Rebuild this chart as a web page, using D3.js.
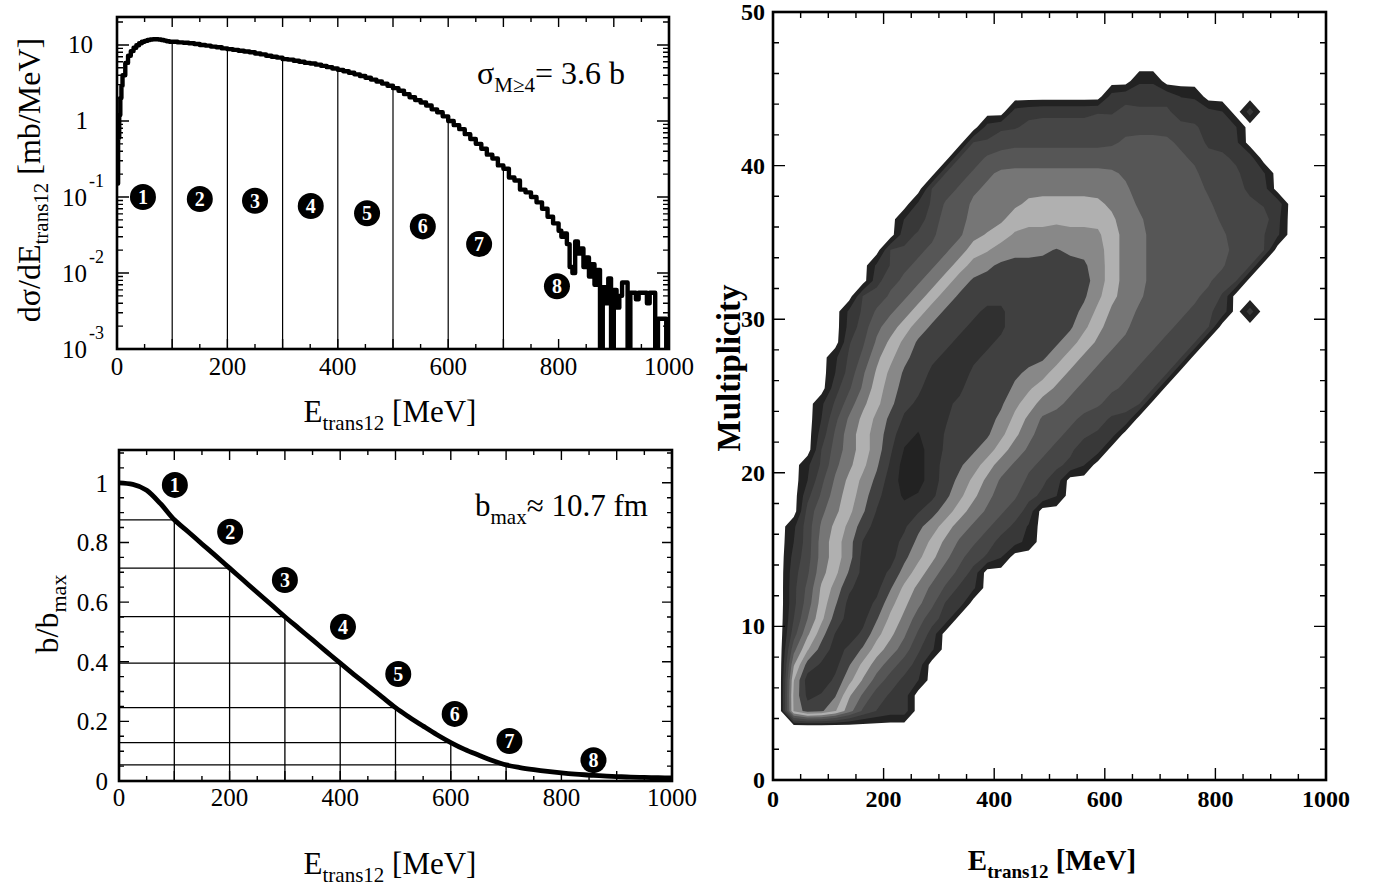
<!DOCTYPE html>
<html>
<head>
<meta charset="utf-8">
<script src="https://cdn.jsdelivr.net/npm/d3@7/dist/d3.min.js"></script>
<style>
  html, body { margin: 0; background: #fff; }
  svg text { font-family: "Liberation Serif", "Times New Roman", serif; }
</style>
</head>
<body>
<svg id="fig" width="1373" height="886"></svg>
<script>
/* ── data ─────────────────────────────────────────────── */

// dσ/dE histogram: fine bins at the rise, 10 MeV in the body, 5 MeV in the tail
const dsigFineE = [0, 2, 4, 6, 8, 10, 15, 20, 25, 30, 35, 40, 45, 50, 55, 60, 65, 70, 75, 80, 85, 90, 95];
const dsigFine = [0.15, 0.6, 1.2, 2.0, 2.9, 4.0, 5.8, 7.2, 8.3, 9.2, 9.9, 10.5, 11.0,
                  11.3, 11.6, 11.8, 11.9, 11.9, 11.8, 11.6, 11.4, 11.2, 11.0];
const dsigMidE = d3.range(100, 800, 10);
const dsigMid = [
  11.0, 10.8, 10.7, 10.5, 10.3, 10.0, 9.8, 9.5, 9.3, 9.0,
  8.8, 8.6, 8.4, 8.2, 8.0, 7.7, 7.5, 7.2, 7.0, 6.8,
  6.5, 6.4, 6.2, 6.0, 5.8, 5.7, 5.5, 5.3, 5.1, 4.9,
  4.7, 4.5, 4.3, 4.1, 3.9, 3.7, 3.5, 3.3, 3.1, 2.9,
  2.7, 2.5, 2.25, 2.05, 1.88, 1.75, 1.6, 1.42, 1.3, 1.15,
  1.0, 0.88, 0.78, 0.67, 0.58, 0.50, 0.43, 0.36, 0.32, 0.26,
  0.235, 0.18, 0.165, 0.125, 0.115, 0.10, 0.085, 0.07, 0.055, 0.045
];
const dsigTailE = d3.range(800, 1000, 5);
const dsigTail = [
  0.036, 0.030, 0.033, 0.024, 0.012, 0.010, 0.026, 0.018, 0.021, 0.012,
  0.016, 0.009, 0.013, 0.007, 0.011, 0.0008, 0.0065, 0.004, 0.0085, 0.0008,
  0.006, 0.0035, 0.005, 0.0075, 0.0075, 0.0008, 0.0055, 0.0055, 0.0045, 0.0055,
  0.0055, 0.0055, 0.004, 0.0055, 0.0055, 0.0008, 0.0025, 0.0025, 0.0025, 0.0008
];

// b/bmax versus E_trans12
const bCurveE = d3.range(0, 1001, 25);
const bCurve = [1.000, 0.995, 0.975, 0.930, 0.876, 0.836, 0.795, 0.755, 0.714, 0.673,
                0.632, 0.592, 0.551, 0.512, 0.473, 0.434, 0.395, 0.357, 0.320, 0.283,
                0.246, 0.214, 0.184, 0.155, 0.129, 0.106, 0.087, 0.069, 0.054, 0.045,
                0.038, 0.032, 0.027, 0.023, 0.020, 0.017, 0.015, 0.013, 0.012, 0.011, 0.010];

// impact-parameter bin edges
const sliceE = [100, 200, 300, 400, 500, 600, 700];

// numbered bin markers
const markAE = [47, 150, 250, 351, 453, 554, 656, 797];
const markAV = [0.1, 0.094, 0.089, 0.076, 0.061, 0.041, 0.024, 0.0067];
const markBE = [101, 201, 300, 405, 505, 607, 706, 858];
const markBV = [0.993, 0.836, 0.674, 0.517, 0.359, 0.225, 0.134, 0.070];

// Multiplicity vs E_trans12 contour levels (rows M=49.5 down to 0.5,
// columns E=12.5..987.5 step 25; '.' = empty, hex digit = level)
const multRows = [
  "", "", "", "",
  "..........|..........|......11",
  "..........|..........|....122221|1",
  "..........|.......122|2222333332|221.2",
  "..........|.....12333|3333333333|3221",
  "..........|....233333|3333344443|3222",
  "..........|...2344444|4444444444|33322",
  "..........|..23445555|5555544444|433322",
  "..........|.234455555|5555554444|433321",
  "..........|1344555566|6666554444|4433332",
  ".........1|2344555666|6666655444|4433332",
  ".........2|3344556777|7777655444|4443331",
  "........23|3445677777|8777655444|444332",
  ".......133|4456778888|8887655444|44432",
  ".......234|4567888888|8887655444|4432",
  "......2344|5678888888|8887655444|432",
  ".....13445|6788899888|8876554444|332.2",
  ".....23456|7888999888|8876554443|32",
  ".....23567|8889998888|8765544433|2",
  "....134567|8899988888|7655444332",
  "....134678|8999888877|655444332",
  "....235678|8999888776|55444332",
  "...1345678|9998888765|5444332",
  "...1356789|9988887654|443322",
  "...2456789|a998887654|43322",
  "...245678a|a988876544|3322",
  "..1345679a|a988765443|321",
  "..1356789a|a987654433|2",
  "..2456789a|a987654432|1",
  "..34567999|887654432",
  ".135678999|876544321",
  ".135679998|765443221",
  ".235679998|7654321",
  ".235679997|65432",
  ".246799976|54331",
  ".246799976|5431",
  ".246899765|431",
  ".367999765|32",
  ".368997654|31",
  ".689976543|2",
  ".6a9976432|1",
  ".6a9764322",
  ".777743222",
  "", "", "", ""
];
const levelThresholds = d3.range(0.5, 10, 1);
const levelColors = ['#222222', '#383838', '#464646', '#565656', '#767676',
                     '#b0b0b0', '#888888', '#404040', '#303030', '#222222'];

/* ── helpers ──────────────────────────────────────────── */
const svg = d3.select('#fig');
const defs = svg.append('defs');

function clip(id, xs, ys) {
    const [x0, x1] = xs.range(), [y0, y1] = ys.range();
    defs.append('clipPath').attr('id', id).append('rect')
        .attr('x', x0).attr('y', y1).attr('width', x1 - x0).attr('height', y0 - y1);
    return `url(#${id})`;
}

function frame(g, xs, ys) {
    const [x0, x1] = xs.range(), [y0, y1] = ys.range();
    g.append('rect').attr('x', x0).attr('y', y1)
        .attr('width', x1 - x0).attr('height', y0 - y1)
        .attr('fill', 'none').attr('stroke', '#000').attr('stroke-width', 2.6);
}

function xTicks(g, xs, ys, vals, len) {
    const [y0, y1] = ys.range();
    g.append('path')
        .attr('d', vals.map(v => `M${xs(v)},${y0}v${-len}M${xs(v)},${y1}v${len}`).join(''))
        .attr('stroke', '#000').attr('stroke-width', 1.4).attr('fill', 'none');
}

function yTicks(g, xs, ys, vals, len) {
    const [x0, x1] = xs.range();
    g.append('path')
        .attr('d', vals.map(v => `M${x0},${ys(v)}h${len}M${x1},${ys(v)}h${-len}`).join(''))
        .attr('stroke', '#000').attr('stroke-width', 1.4).attr('fill', 'none');
}

function markers(g, xs, ys, es, vs) {
    const m = g.selectAll(null).data(es).join('g')
        .attr('transform', (e, i) => `translate(${xs(e)},${ys(vs[i])})`);
    m.append('circle').attr('r', 13).attr('fill', '#000');
    m.append('text').attr('text-anchor', 'middle').attr('dy', '0.35em')
        .attr('fill', '#fff').attr('font-weight', 'bold').attr('font-size', 20)
        .text((e, i) => i + 1);
}

// text with a subscript: [main, sub, rest]
function subText(g, x, y, parts, size, subSize, opts = {}) {
    const t = g.append('text').attr('x', x).attr('y', y)
        .attr('font-size', size).attr('text-anchor', opts.anchor || 'start')
        .attr('font-weight', opts.bold ? 'bold' : 'normal');
    if (opts.rotate) t.attr('transform', `rotate(-90,${x},${y})`);
    const drop = Math.round(size * 0.26);
    t.append('tspan').text(parts[0]);
    t.append('tspan').attr('font-size', subSize).attr('dy', drop).text(parts[1]);
    t.append('tspan').attr('dy', -drop).text(parts[2]);
    return t;
}

/* ── panel A: dσ/dE (log) ─────────────────────────────── */
const xA = d3.scaleLinear().domain([0, 1000]).range([117, 669]);
const yA = d3.scaleLog().domain([1e-3, 23.3]).range([349, 17]);
const gA = svg.append('g');

const histE = dsigFineE.concat(dsigMidE, dsigTailE);
const histV = dsigFine.concat(dsigMid, dsigTail);
const histPts = histE.map((e, i) => [e, histV[i]]);
histPts.push([1000, histV[histV.length - 1]]);

const gAin = gA.append('g').attr('clip-path', clip('clipA', xA, yA));
gAin.selectAll(null).data(sliceE).join('line')
    .attr('x1', d => xA(d)).attr('x2', d => xA(d))
    .attr('y1', yA.range()[0])
    .attr('y2', d => yA(histV[histE.indexOf(d)]))
    .attr('stroke', '#000').attr('stroke-width', 1.2);
gAin.append('path').datum(histPts)
    .attr('d', d3.line().x(d => xA(d[0])).y(d => yA(Math.max(d[1], 7e-4))).curve(d3.curveStepAfter))
    .attr('fill', 'none').attr('stroke', '#000').attr('stroke-width', 4.4)
    .attr('stroke-linejoin', 'round');

frame(gA, xA, yA);
xTicks(gA, xA, yA, d3.range(0, 1001, 100), 10);
xTicks(gA, xA, yA, d3.range(50, 1000, 100), 5);
const decA = [1e-3, 1e-2, 1e-1, 1, 10];
yTicks(gA, xA, yA, decA, 12);
yTicks(gA, xA, yA, decA.flatMap(d => d3.range(2, 10).map(m => m * d)).filter(v => v < 23), 6);

gA.selectAll(null).data(d3.range(0, 1001, 200)).join('text')
    .attr('x', d => xA(d)).attr('y', 375).attr('text-anchor', 'middle')
    .attr('font-size', 25).text(d => d);
const yLabA = [10, 1, 0.1, 0.01, 0.001];
const yExpA = ['', '', '-1', '-2', '-3'];
yLabA.forEach((v, i) => {
    const y = yA(v);
    if (v === 10) gA.append('text').attr('x', 93).attr('y', y + 8).attr('text-anchor', 'end').attr('font-size', 25).text('10');
    else if (v === 1) gA.append('text').attr('x', 88).attr('y', y + 8).attr('text-anchor', 'end').attr('font-size', 25).text('1');
    else {
        gA.append('text').attr('x', 87).attr('y', y + 9).attr('text-anchor', 'end').attr('font-size', 25).text('10');
        gA.append('text').attr('x', 89).attr('y', y - 10).attr('font-size', 18).text(yExpA[i]);
    }
});
markers(gA, xA, yA, markAE, markAV);

subText(gA, 390, 422, ['E', 'trans12', ' [MeV]'], 31, 21, { anchor: 'middle' });
subText(gA, 40, 180, ['dσ/dE', 'trans12', ' [mb/MeV]'], 32, 21, { anchor: 'middle', rotate: true });
subText(gA, 477, 84, ['σ', 'M≥4', '= 3.6 b'], 32, 21);

/* ── panel B: b/bmax ─────────────────────────────────── */
const xB = d3.scaleLinear().domain([0, 1000]).range([119, 672]);
const yB = d3.scaleLinear().domain([0, 1.11]).range([781, 450]);
const gB = svg.append('g');
const gBin = gB.append('g').attr('clip-path', clip('clipB', xB, yB));
const bAt = e => bCurve[bCurveE.indexOf(e)];

gBin.selectAll(null).data(sliceE).join('path')
    .attr('d', e => `M${xB(e)},${yB(0)}V${yB(bAt(e))}M${xB(0)},${yB(bAt(e))}H${xB(e)}`)
    .attr('stroke', '#000').attr('stroke-width', 1.3).attr('fill', 'none');
gBin.append('path').datum(bCurveE.map((e, i) => [e, bCurve[i]]))
    .attr('d', d3.line().x(d => xB(d[0])).y(d => yB(d[1])).curve(d3.curveMonotoneX))
    .attr('fill', 'none').attr('stroke', '#000').attr('stroke-width', 4.8);

frame(gB, xB, yB);
xTicks(gB, xB, yB, d3.range(0, 1001, 100), 10);
xTicks(gB, xB, yB, d3.range(50, 1000, 100), 5);
yTicks(gB, xB, yB, d3.range(0, 1.01, 0.2), 10);
yTicks(gB, xB, yB, d3.range(0.05, 1.11, 0.05).filter(v => Math.abs(v / 0.2 - Math.round(v / 0.2)) > 0.01), 5);

gB.selectAll(null).data(d3.range(0, 1001, 200)).join('text')
    .attr('x', d => xB(d)).attr('y', 806).attr('text-anchor', 'middle')
    .attr('font-size', 25).text(d => d);
gB.selectAll(null).data([0, 0.2, 0.4, 0.6, 0.8, 1]).join('text')
    .attr('x', 108).attr('y', d => yB(d) + 9).attr('text-anchor', 'end')
    .attr('font-size', 25).text(d => d);
markers(gB, xB, yB, markBE, markBV);

subText(gB, 390, 874, ['E', 'trans12', ' [MeV]'], 31, 21, { anchor: 'middle' });
subText(gB, 58, 614, ['b/b', 'max', ''], 32, 22, { anchor: 'middle', rotate: true });
subText(gB, 475, 516, ['b', 'max', '≈ 10.7 fm'], 31, 21);

/* ── panel C: Multiplicity contour ───────────────────── */
const xC = d3.scaleLinear().domain([0, 1000]).range([773, 1326]);
const yC = d3.scaleLinear().domain([0, 50]).range([780, 12]);
const gC = svg.append('g');

const NX = 40, NY = 50;
const grid = new Float64Array(NX * NY);
multRows.slice().reverse().forEach((row, j) => {
    const s = row.replace(/\|/g, '');
    for (let i = 0; i < NX; i++) {
        const c = s[i];
        grid[j * NX + i] = (c && c !== '.') ? parseInt(c, 16) : 0;
    }
});
// light smoothing between filled neighbours only, so bands do not step
// cell by cell while the outer edge keeps its shape
const nbrs = [[0, 1, 0.25], [0, -1, 0.25], [1, 0, 0.1], [-1, 0, 0.1]];
const levels = Array.from(grid, (v, k) => {
    if (v === 0) return 0;
    const i = k % NX, j = (k - i) / NX;
    let s = 0.3 * v, w = 0.3;
    nbrs.forEach(([di, dj, wt]) => {
        const ii = i + di, jj = j + dj;
        if (ii < 0 || ii >= NX || jj < 0 || jj >= NY) return;
        const u = grid[jj * NX + ii];
        if (u > 0) { s += wt * u; w += wt; }
    });
    return s / w;
});

const bands = d3.contours().size([NX, NY]).thresholds(levelThresholds)(levels);
const gridPath = d3.geoPath(d3.geoTransform({
    point(x, y) { this.stream.point(xC(x * 25), yC(y)); }
}));
gC.append('g').attr('clip-path', clip('clipC', xC, yC))
    .selectAll('path').data(bands).join('path')
    .attr('d', gridPath)
    .attr('fill', (d, k) => levelColors[k]);

frame(gC, xC, yC);
xTicks(gC, xC, yC, d3.range(0, 1001, 200), 12);
xTicks(gC, xC, yC, d3.range(50, 1000, 50).filter(v => v % 200), 6);
yTicks(gC, xC, yC, d3.range(0, 51, 10), 12);
yTicks(gC, xC, yC, d3.range(2, 50, 2).filter(v => v % 10), 6);

gC.selectAll(null).data(d3.range(0, 1001, 200)).join('text')
    .attr('x', d => xC(d)).attr('y', 807).attr('text-anchor', 'middle')
    .attr('font-size', 24).attr('font-weight', 'bold').text(d => d);
gC.selectAll(null).data(d3.range(0, 51, 10)).join('text')
    .attr('x', 765).attr('y', d => yC(d) + 8).attr('text-anchor', 'end')
    .attr('font-size', 24).attr('font-weight', 'bold').text(d => d);

subText(gC, 1052, 870, ['E', 'trans12', ' [MeV]'], 29, 19, { anchor: 'middle', bold: true });
gC.append('text').attr('x', 740).attr('y', 368).attr('transform', 'rotate(-90,740,368)')
    .attr('text-anchor', 'middle').attr('font-size', 33).attr('font-weight', 'bold')
    .text('Multiplicity');
</script>
</body>
</html>
